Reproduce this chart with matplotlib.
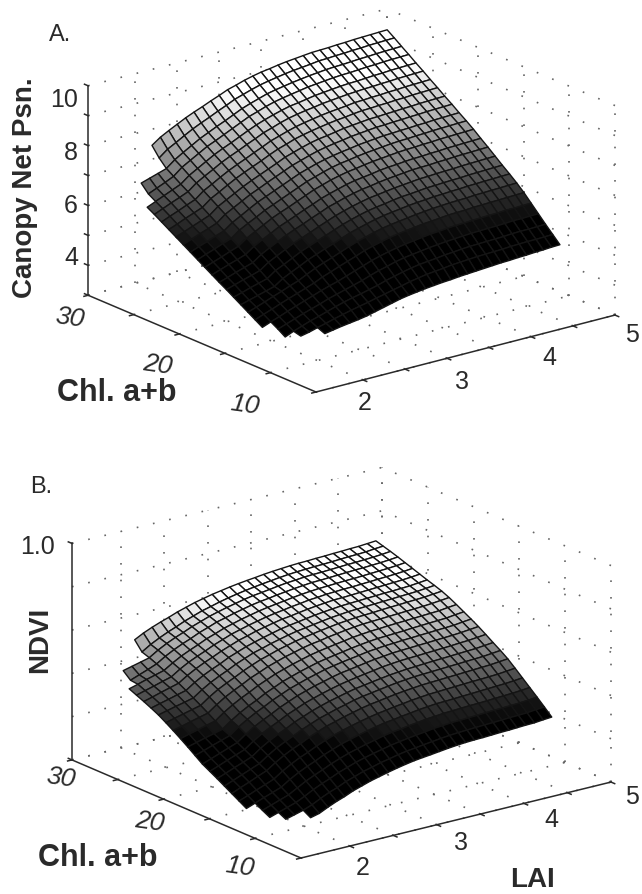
import matplotlib
matplotlib.use("Agg")
import matplotlib.pyplot as plt
import numpy as np
from mpl_toolkits.mplot3d import proj3d
from mpl_toolkits.mplot3d.art3d import Poly3DCollection

plt.rcParams["font.family"] = ["Liberation Sans", "DejaVu Sans"]

nan = float("nan")

lai_a = [1.8, 1.9, 2.0, 2.1, 2.2, 2.3, 2.4, 2.5, 2.6, 2.7, 2.8, 2.9, 3.0, 3.1, 3.2, 3.3, 3.4, 3.5,
         3.6, 3.7, 3.8, 3.9, 4.0, 4.1, 4.2, 4.3, 4.4, 4.5, 4.6, 4.7, 4.8, 4.9, 5.0]
chl_a = [30, 29.21, 28.42, 27.63, 26.84, 26.05, 25.26, 24.47, 23.68, 22.89, 22.1, 21.31, 20.52,
         19.73, 18.94, 18.15, 17.36, 16.57, 15.78, 14.99, 14.2, 13.41, 12.62, 11.83, 11.04]
# canopy net psn, one row per chl value, one column per LAI value
psn = [
    [nan,nan,nan,nan,7.46,7.66,7.81,7.95,8.09,8.21,8.32,8.44,8.55,8.67,8.75,8.84,8.91,8.97,9.01,9.06,9.10,9.13,9.16,9.19,9.20,9.21,9.23,9.24,9.26,9.27,9.28,9.29,9.30],
    [nan,nan,nan,nan,7.14,7.36,7.51,7.67,7.82,7.95,8.07,8.20,8.32,8.45,8.54,8.63,8.71,8.77,8.82,8.87,8.91,8.94,8.97,9.01,9.02,9.04,9.05,9.07,9.08,9.10,9.11,9.12,9.13],
    [nan,6.62,6.71,6.80,6.89,7.11,7.28,7.44,7.60,7.73,7.86,7.98,8.11,8.24,8.34,8.43,8.52,8.58,8.63,8.68,8.72,8.76,8.79,8.82,8.84,8.85,8.87,8.89,8.90,8.92,8.93,8.94,8.95],
    [nan,6.36,6.48,6.60,6.73,6.96,7.12,7.28,7.44,7.56,7.69,7.82,7.95,8.08,8.17,8.27,8.35,8.41,8.46,8.51,8.56,8.59,8.62,8.65,8.67,8.68,8.70,8.72,8.73,8.75,8.76,8.77,8.78],
    [6.09,6.21,6.33,6.45,6.57,6.79,6.95,7.11,7.27,7.40,7.52,7.65,7.78,7.90,8.00,8.09,8.17,8.24,8.28,8.33,8.38,8.41,8.44,8.47,8.49,8.50,8.52,8.54,8.55,8.57,8.58,8.59,8.60],
    [5.95,6.07,6.19,6.30,6.42,6.64,6.80,6.95,7.11,7.24,7.36,7.49,7.61,7.74,7.83,7.93,8.01,8.07,8.12,8.16,8.21,8.24,8.27,8.30,8.32,8.34,8.35,8.37,8.38,8.40,8.41,8.42,8.43],
    [5.80,5.92,6.03,6.15,6.26,6.48,6.63,6.79,6.94,7.07,7.19,7.32,7.44,7.57,7.66,7.75,7.83,7.89,7.94,7.99,8.03,8.06,8.09,8.13,8.14,8.16,8.17,8.19,8.20,8.22,8.23,8.24,8.25],
    [5.65,5.76,5.88,5.99,6.10,6.32,6.47,6.63,6.78,6.91,7.03,7.15,7.28,7.40,7.49,7.59,7.66,7.72,7.77,7.82,7.86,7.89,7.93,7.96,7.97,7.99,8.00,8.02,8.03,8.05,8.06,8.07,8.08],
    [5.50,5.61,5.72,5.83,5.94,6.16,6.31,6.46,6.61,6.74,6.86,6.98,7.10,7.23,7.32,7.41,7.49,7.55,7.59,7.64,7.69,7.72,7.75,7.78,7.79,7.81,7.82,7.84,7.85,7.87,7.88,7.89,7.90],
    [5.35,5.46,5.57,5.67,5.78,6.00,6.15,6.30,6.45,6.57,6.70,6.82,6.94,7.06,7.15,7.24,7.32,7.38,7.43,7.47,7.52,7.55,7.58,7.61,7.62,7.64,7.65,7.67,7.68,7.70,7.71,7.72,7.73],
    [5.20,5.31,5.41,5.52,5.62,5.83,5.98,6.14,6.29,6.41,6.53,6.65,6.77,6.89,6.98,7.07,7.14,7.20,7.25,7.29,7.34,7.37,7.40,7.43,7.44,7.46,7.47,7.49,7.50,7.52,7.53,7.54,7.55],
    [5.05,5.16,5.26,5.37,5.47,5.68,5.83,5.97,6.12,6.24,6.36,6.48,6.60,6.72,6.81,6.90,6.98,7.04,7.08,7.13,7.17,7.20,7.23,7.26,7.28,7.29,7.31,7.32,7.34,7.35,7.36,7.37,7.38],
    [4.90,5.00,5.10,5.21,5.31,5.51,5.66,5.81,5.96,6.08,6.19,6.31,6.43,6.55,6.64,6.73,6.80,6.86,6.90,6.95,6.99,7.02,7.05,7.08,7.10,7.11,7.13,7.14,7.16,7.17,7.18,7.19,7.20],
    [4.75,4.85,4.95,5.04,5.14,5.34,5.49,5.63,5.78,5.89,6.01,6.13,6.24,6.36,6.45,6.53,6.61,6.67,6.71,6.75,6.80,6.83,6.85,6.88,6.90,6.91,6.93,6.94,6.96,6.97,6.98,6.99,7.00],
    [4.60,4.69,4.79,4.88,4.97,5.17,5.32,5.46,5.60,5.72,5.83,5.95,6.06,6.18,6.26,6.35,6.42,6.48,6.52,6.57,6.61,6.64,6.67,6.70,6.71,6.72,6.74,6.75,6.77,6.78,6.79,6.80,6.81],
    [4.46,4.55,4.64,4.72,4.81,5.01,5.15,5.29,5.43,5.54,5.65,5.77,5.88,5.99,6.08,6.16,6.23,6.29,6.33,6.37,6.41,6.44,6.47,6.50,6.51,6.53,6.54,6.55,6.57,6.58,6.59,6.60,6.61],
    [4.31,4.39,4.48,4.56,4.64,4.84,4.97,5.11,5.25,5.36,5.47,5.58,5.69,5.80,5.89,5.97,6.04,6.09,6.13,6.18,6.22,6.24,6.27,6.30,6.31,6.33,6.34,6.35,6.37,6.38,6.39,6.40,6.41],
    [4.16,4.24,4.32,4.40,4.48,4.67,4.81,4.94,5.08,5.19,5.30,5.40,5.51,5.62,5.70,5.78,5.85,5.91,5.95,5.99,6.03,6.06,6.08,6.11,6.12,6.14,6.15,6.17,6.18,6.19,6.20,6.21,6.22],
    [4.01,4.11,4.21,4.32,4.42,4.53,4.63,4.77,4.90,5.01,5.11,5.22,5.33,5.43,5.51,5.59,5.66,5.71,5.75,5.79,5.83,5.86,5.89,5.91,5.93,5.94,5.95,5.97,5.98,5.99,6.00,6.01,6.02],
    [3.86,3.97,4.07,4.18,4.28,4.38,4.48,4.58,4.71,4.81,4.92,5.02,5.12,5.23,5.31,5.38,5.45,5.50,5.54,5.58,5.62,5.64,5.67,5.70,5.71,5.72,5.74,5.75,5.76,5.77,5.78,5.79,5.80],
    [3.71,3.82,3.92,4.03,4.13,4.23,4.33,4.43,4.52,4.60,4.70,4.80,4.90,5.00,5.08,5.15,5.21,5.26,5.30,5.34,5.38,5.40,5.43,5.45,5.46,5.48,5.49,5.50,5.51,5.53,5.53,5.54,5.55],
    [nan,3.68,3.78,3.88,3.98,4.07,4.16,4.26,4.34,4.42,4.50,4.58,4.68,4.77,4.84,4.92,4.98,5.02,5.06,5.10,5.13,5.16,5.18,5.20,5.22,5.23,5.24,5.25,5.26,5.28,5.28,5.29,5.30],
    [nan,3.52,3.64,3.74,3.84,3.92,4.01,4.10,4.18,4.25,4.31,4.38,4.45,4.54,4.61,4.68,4.74,4.79,4.82,4.85,4.89,4.91,4.94,4.96,4.97,4.98,4.99,5.00,5.02,5.03,5.03,5.04,5.05],
    [nan,nan,3.58,3.64,3.72,3.79,3.87,3.94,4.01,4.07,4.13,4.20,4.26,4.33,4.39,4.46,4.51,4.56,4.59,4.62,4.66,4.68,4.70,4.72,4.73,4.74,4.75,4.77,4.78,4.79,4.79,4.80,4.81],
    [nan,nan,nan,nan,3.62,3.67,3.72,3.76,3.80,3.85,3.92,3.99,4.06,4.13,4.18,4.22,4.26,4.29,4.32,4.34,4.37,4.39,4.41,4.43,4.45,4.47,4.48,4.50,4.51,4.53,4.54,4.56,4.57],
]

lai_b = [1.76, 1.86, 1.96, 2.06, 2.16, 2.26, 2.36, 2.46, 2.55, 2.65, 2.75, 2.85, 2.95, 3.05, 3.15, 3.25, 3.35, 3.45,
         3.54, 3.64, 3.74, 3.84, 3.94, 4.04, 4.14, 4.24, 4.34, 4.44, 4.53, 4.63, 4.73, 4.83, 4.93]
chl_b = [30, 29.2, 28.4, 27.6, 26.8, 26, 25.2, 24.4, 23.6, 22.8, 22, 21.2, 20.4,
         19.6, 18.8, 18, 17.2, 16.4, 15.6, 14.8, 14, 13.2, 12.4, 11.6, 10.8]
ndvi = [
    [nan,nan,nan,nan,.484,.505,.522,.537,.549,.564,.576,.588,.597,.606,.613,.620,.626,.631,.635,.640,.644,.647,.650,.652,.653,.655,.656,.658,.659,.661,.662,.665,.668],
    [nan,nan,nan,nan,.442,.467,.487,.505,.519,.536,.550,.564,.574,.585,.594,.602,.609,.615,.620,.625,.630,.634,.637,.639,.641,.642,.644,.646,.648,.649,.651,.655,.658],
    [nan,.400,.410,.420,.430,.455,.476,.494,.508,.525,.539,.553,.564,.574,.583,.592,.599,.604,.609,.615,.620,.623,.627,.629,.630,.632,.634,.636,.637,.639,.641,.644,.648],
    [nan,.370,.385,.400,.416,.441,.462,.480,.494,.512,.526,.541,.551,.562,.571,.580,.587,.592,.598,.603,.608,.612,.616,.617,.619,.621,.623,.625,.626,.628,.630,.633,.637],
    [.355,.366,.378,.389,.400,.425,.447,.465,.480,.498,.512,.527,.538,.549,.558,.567,.574,.580,.585,.591,.596,.600,.603,.605,.607,.609,.610,.612,.614,.616,.618,.621,.625],
    [.340,.351,.362,.374,.385,.411,.433,.451,.466,.484,.499,.514,.525,.536,.545,.554,.561,.567,.573,.578,.584,.587,.591,.593,.595,.596,.598,.600,.602,.604,.606,.609,.613],
    [.325,.336,.348,.359,.370,.396,.418,.437,.452,.470,.485,.500,.511,.523,.532,.541,.549,.554,.560,.566,.571,.575,.579,.580,.582,.584,.586,.588,.590,.592,.594,.597,.601],
    [.309,.320,.330,.341,.351,.378,.401,.420,.435,.455,.470,.485,.497,.508,.518,.528,.535,.541,.547,.553,.558,.562,.566,.568,.570,.572,.574,.576,.577,.579,.581,.585,.589],
    [.292,.302,.312,.321,.331,.359,.383,.403,.419,.439,.455,.471,.482,.494,.504,.514,.522,.528,.534,.540,.546,.550,.554,.556,.558,.560,.562,.564,.566,.568,.570,.574,.578],
    [.271,.281,.291,.301,.311,.340,.365,.385,.402,.422,.439,.455,.467,.480,.490,.500,.508,.515,.521,.527,.533,.537,.541,.543,.545,.548,.550,.552,.554,.556,.558,.562,.566],
    [.249,.259,.270,.280,.290,.319,.345,.366,.383,.404,.420,.437,.450,.463,.473,.484,.492,.498,.505,.511,.517,.522,.526,.528,.530,.532,.534,.536,.538,.540,.543,.547,.551],
    [.226,.237,.247,.258,.268,.298,.323,.345,.362,.383,.400,.417,.430,.443,.454,.465,.473,.480,.486,.492,.499,.503,.507,.509,.512,.514,.516,.518,.520,.522,.524,.529,.533],
    [.202,.213,.224,.234,.245,.275,.301,.323,.340,.362,.379,.397,.410,.423,.434,.445,.453,.460,.466,.473,.479,.484,.488,.490,.492,.494,.497,.499,.501,.503,.505,.510,.514],
    [.177,.190,.204,.217,.230,.260,.285,.307,.324,.345,.362,.379,.392,.405,.416,.427,.435,.442,.448,.454,.461,.465,.469,.471,.474,.476,.478,.480,.482,.484,.486,.491,.495],
    [.152,.167,.182,.197,.212,.241,.267,.288,.305,.326,.343,.360,.373,.386,.396,.407,.416,.422,.428,.435,.441,.445,.450,.452,.454,.456,.458,.460,.462,.464,.467,.471,.475],
    [.133,.148,.164,.179,.194,.223,.248,.269,.286,.307,.323,.340,.353,.365,.376,.386,.394,.401,.407,.413,.420,.424,.428,.430,.432,.434,.436,.438,.440,.443,.445,.449,.453],
    [.114,.129,.145,.160,.176,.205,.229,.250,.266,.287,.303,.319,.332,.344,.354,.364,.373,.379,.385,.391,.397,.401,.405,.407,.410,.412,.414,.416,.418,.420,.422,.426,.430],
    [.094,.110,.126,.142,.158,.186,.211,.231,.247,.267,.283,.299,.311,.323,.333,.344,.352,.358,.364,.370,.376,.380,.384,.386,.388,.390,.392,.394,.396,.398,.400,.404,.408],
    [.074,.091,.107,.124,.140,.167,.191,.211,.226,.246,.262,.278,.289,.301,.311,.321,.329,.335,.341,.347,.352,.356,.360,.362,.364,.366,.368,.370,.372,.374,.376,.380,.384],
    [.054,.069,.085,.100,.116,.143,.166,.186,.201,.220,.236,.251,.263,.274,.284,.293,.301,.307,.313,.318,.324,.328,.332,.334,.336,.338,.340,.342,.343,.345,.347,.351,.355],
    [.034,.049,.064,.078,.093,.119,.141,.160,.175,.194,.209,.224,.235,.246,.256,.265,.273,.278,.284,.289,.295,.299,.303,.304,.306,.308,.310,.312,.314,.316,.318,.321,.325],
    [nan,.030,.044,.058,.072,.094,.116,.134,.149,.167,.182,.196,.207,.218,.227,.237,.244,.249,.255,.260,.266,.269,.273,.275,.277,.279,.280,.282,.284,.286,.288,.291,.295],
    [nan,.012,.025,.038,.051,.070,.091,.109,.123,.141,.155,.169,.180,.190,.199,.208,.215,.221,.226,.231,.237,.240,.244,.245,.247,.249,.251,.253,.254,.256,.258,.261,.265],
    [nan,nan,.008,.019,.030,.045,.065,.083,.096,.114,.127,.141,.151,.162,.170,.179,.186,.191,.196,.201,.206,.210,.213,.215,.217,.219,.220,.222,.224,.225,.227,.231,.234],
    [nan,nan,nan,nan,.010,.020,.039,.056,.069,.086,.099,.112,.122,.132,.141,.149,.156,.161,.165,.170,.175,.179,.182,.184,.185,.187,.189,.190,.192,.194,.195,.199,.202],
]

lai_grid = [2, 2.5, 3, 3.5, 4, 4.5, 5]
chl_grid = [5, 10, 15, 20, 25, 30]
z_grid_a = [3, 4, 5, 6, 7, 8, 9, 10]
z_grid_b = [0, 0.2, 0.4, 0.6, 0.8, 1.0]
lai_lim = (1.44, 5)
chl_lim = (5, 30)

W, H = 642, 894
fig = plt.figure(figsize=(W / 100, H / 100), dpi=100)
INK = "#2a2a2a"
DOTS = (0, (1, 9))


def px_text(x, y, s, **kw):
    kw.setdefault("ha", "center")
    kw.setdefault("va", "center")
    kw.setdefault("color", INK)
    fig.text(x / W, 1 - y / H, s, **kw)


def project(ax, x, y, z):
    u, v, _ = proj3d.proj_transform(np.array([x]), np.array([y]), np.array([z]), ax.get_proj())
    return ax.transData.transform(np.c_[u, v])[0]


def panel(lai, chl, surf, zlim, z_grid, z_ticks, gray, elev, azim, box, front, right):
    ax = fig.add_axes([0.1, 0.1, 0.5, 0.5 * W / H], projection="3d", computed_zorder=False)
    ax.set_proj_type("ortho")
    ax.view_init(elev=elev, azim=azim)
    ax.set_box_aspect(box)
    ax.set_axis_off()
    ax.patch.set_visible(False)

    # grid on the floor and the two back walls
    x0, x1 = lai_lim
    y0, y1 = chl_lim
    z0, z1 = zlim
    dots = dict(color="#666666", lw=1.2, ls=DOTS, zorder=1, clip_on=False)
    for v in lai_grid:
        ax.plot([v, v], [y0, y1], [z0, z0], **dots)
        ax.plot([v, v], [y1, y1], [z0, z1], **dots)
    for v in chl_grid:
        ax.plot([x0, x1], [v, v], [z0, z0], **dots)
        ax.plot([x1, x1], [v, v], [z0, z1], **dots)
    for v in z_grid:
        ax.plot([x0, x1], [y1, y1], [v, v], **dots)
        ax.plot([x1, x1], [y0, y1], [v, v], **dots)

    # axes with their short ticks
    solid = dict(color=INK, lw=1.1, zorder=2, clip_on=False)
    ax.plot([x0, x0], [y1, y1], [z0, z1], **solid)
    ax.plot([x0, x0], [y0, y1], [z0, z0], **solid)
    ax.plot([x0, x1], [y0, y0], [z0, z0], **solid)
    for v in lai_grid:
        ax.plot([v, v], [y0, y0 - 0.4], [z0, z0], **solid)
    for v in chl_grid:
        ax.plot([x0, x0 - 0.05], [v, v], [z0, z0], **solid)
    for v in z_ticks:
        ax.plot([x0, x0], [y1, y1 + 0.4], [v, v], **solid)

    # the surface, cell by cell so the missing corners stay open
    z = np.array(surf)
    quads, means = [], []
    for i in range(len(chl) - 1):
        for j in range(len(lai) - 1):
            c = z[i:i + 2, j:j + 2]
            if np.isnan(c).any():
                continue
            quads.append([(lai[j], chl[i], c[0, 0]), (lai[j + 1], chl[i], c[0, 1]),
                          (lai[j + 1], chl[i + 1], c[1, 1]), (lai[j], chl[i + 1], c[1, 0])])
            means.append(c.mean())
    shade = plt.cm.gray(plt.Normalize(*gray)(means))
    mesh = Poly3DCollection(quads, facecolors=shade, edgecolors="#141414", linewidths=1.0,
                            zorder=3, clip_on=False)
    ax.add_collection3d(mesh)

    ax.set_xlim(*lai_lim)
    ax.set_ylim(*chl_lim)
    ax.set_zlim(*zlim)

    # scale and shift the axes so the floor corners land where they belong
    ax.apply_aspect()
    pf = project(ax, x0, y0, z0)
    pr = project(ax, x1, y0, z0)
    scale = (right[0] - front[0]) / (pr[0] - pf[0])
    side = 0.5 * scale
    ax.set_position([0.1, 0.1, side, side * W / H])
    ax.apply_aspect()
    pf = project(ax, x0, y0, z0)
    ax.set_position([0.1 + (front[0] - pf[0]) / W, 0.1 + (H - front[1] - pf[1]) / H,
                     side, side * W / H])
    return ax


panel(lai_a, chl_a, psn, (3, 10), z_grid_a, z_grid_a, (5.2, 8.6),
      19.3, 232.1, (379, 371, 222), (316, 392), (615, 315))
panel(lai_b, chl_b, ndvi, (0, 1), z_grid_b, [0, 1], (0.22, 0.6),
      18.9, 232.9, (389, 380, 229), (301, 858), (611, 782))

num = dict(fontsize=18)
ital = dict(fontsize=19, style="italic", rotation=-8)
bold = dict(fontsize=20, fontweight="bold")

px_text(60, 35, "A.", fontsize=17)
for y, s in [(100, "10"), (153, "8"), (206, "6"), (258, "4")]:
    px_text(78, y, s, ha="right", **num)
px_text(25, 188, "Canopy Net Psn.", rotation=90, **bold)
px_text(117, 393, "Chl. a+b", fontsize=22, fontweight="bold")
for x, y, s in [(70, 318, "30"), (158, 365, "20"), (245, 405, "10")]:
    px_text(x, y, s, **ital)
for x, y, s in [(365, 403, "2"), (462, 382, "3"), (549, 358, "4"), (632, 335, "5")]:
    px_text(x, y, s, **num)

px_text(41, 487, "B.", fontsize=17)
px_text(37, 547, "1.0", **num)
px_text(40, 640, "NDVI", rotation=90, **bold)
px_text(98, 858, "Chl. a+b", fontsize=22, fontweight="bold")
for x, y, s in [(61, 778, "30"), (150, 822, "20"), (240, 867, "10")]:
    px_text(x, y, s, **ital)
for x, y, s in [(363, 868, "2"), (461, 843, "3"), (551, 820, "4"), (632, 797, "5")]:
    px_text(x, y, s, **num)
px_text(533, 880, "LAI", **bold)

fig.savefig("out.png", dpi=100)
